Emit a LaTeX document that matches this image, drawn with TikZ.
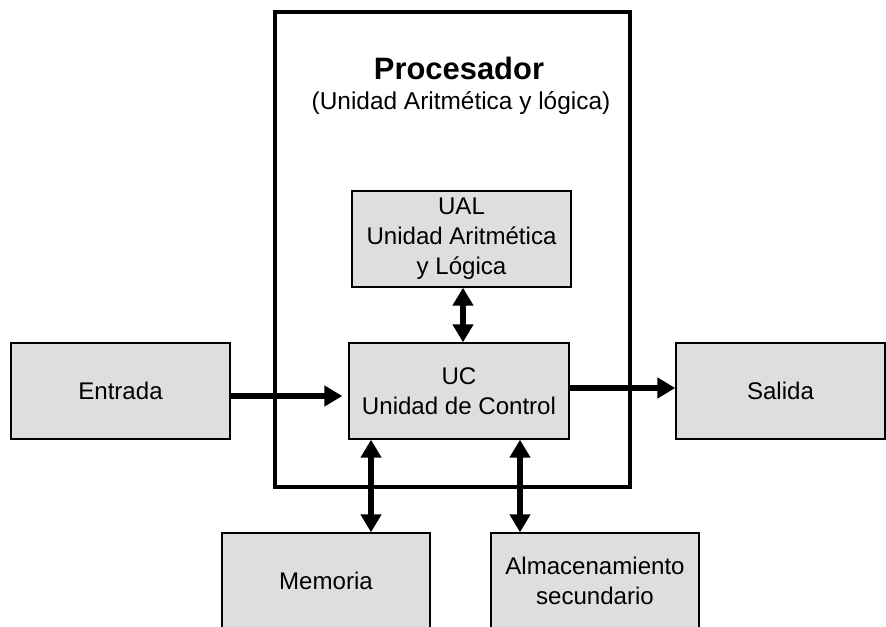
\documentclass[tikz,border=0pt]{standalone}
\usepackage{fontspec}
\setmainfont{Liberation Sans}
\usetikzlibrary{arrows.meta, positioning}
\definecolor{unitGrey}{HTML}{DEDEDE}
\tikzset{
  cpubox/.style     = {draw=black, line width=2.3pt, minimum width=7.1cm,
                       minimum height=9.5cm, inner sep=0pt},
  unitbox/.style    = {draw=black, line width=0.8pt, fill=unitGrey, align=center,
                       minimum width=4.38cm, minimum height=1.92cm, inner sep=0pt,
                       font=\fontsize{13.7}{17}\selectfont},
  flowarrow/.style  = {-{Triangle[length=0.36cm, width=0.4cm]}, line width=3.2pt},
  busarrow/.style   = {{Triangle[length=0.36cm, width=0.4cm]}-{Triangle[length=0.36cm, width=0.4cm]},
                       line width=3.2pt},
  ttl/.style        = {font=\bfseries\fontsize{17.6}{20}\selectfont},
  lbl/.style        = {font=\fontsize{13.9}{17}\selectfont},
}
\begin{document}
\begin{tikzpicture}[x=0.02cm,y=-0.02cm]
  \useasboundingbox (0,0) rectangle (886,626);
  % processor frame
  \node[cpubox] (cpu) at (452.5,249.5) {};
  \node[ttl] (cputitle) at (459,68) {Procesador};
  \node[lbl] (cpusub) at (461,103) {(Unidad Aritmética y lógica)};
  % units
  \node[unitbox] (ual) at (461.5,239) {UAL\\Unidad Aritmética\\y Lógica};
  \node[unitbox, minimum width=4.4cm] (uc) at (459,391) {UC\\Unidad de Control};
  \node[unitbox] (entrada) at (120.5,391) {Entrada};
  \node[unitbox, minimum width=4.18cm] (salida) at (780.5,391) {Salida};
  \node[unitbox, minimum width=4.16cm] (mem) at (326,581) {Memoria};
  \node[unitbox, minimum width=4.16cm] (alm) at (595,581) {Almacenamiento\\secundario};
  % connections
  \draw[flowarrow, shorten >=0.12cm] ([yshift=-0.1cm]entrada.east) -- ([yshift=-0.1cm]uc.west);
  \draw[flowarrow] ([yshift=0.06cm]uc.east) -- ([yshift=0.06cm]salida.west);
  \draw[busarrow] ([xshift=0.08cm]uc.north) -- ([xshift=0.03cm]ual.south);
  \draw[busarrow] ([xshift=-1.76cm]uc.south) -- ([xshift=0.9cm]mem.north);
  \draw[busarrow] ([xshift=1.22cm]uc.south) -- ([xshift=-1.5cm]alm.north);
\end{tikzpicture}
\end{document}
